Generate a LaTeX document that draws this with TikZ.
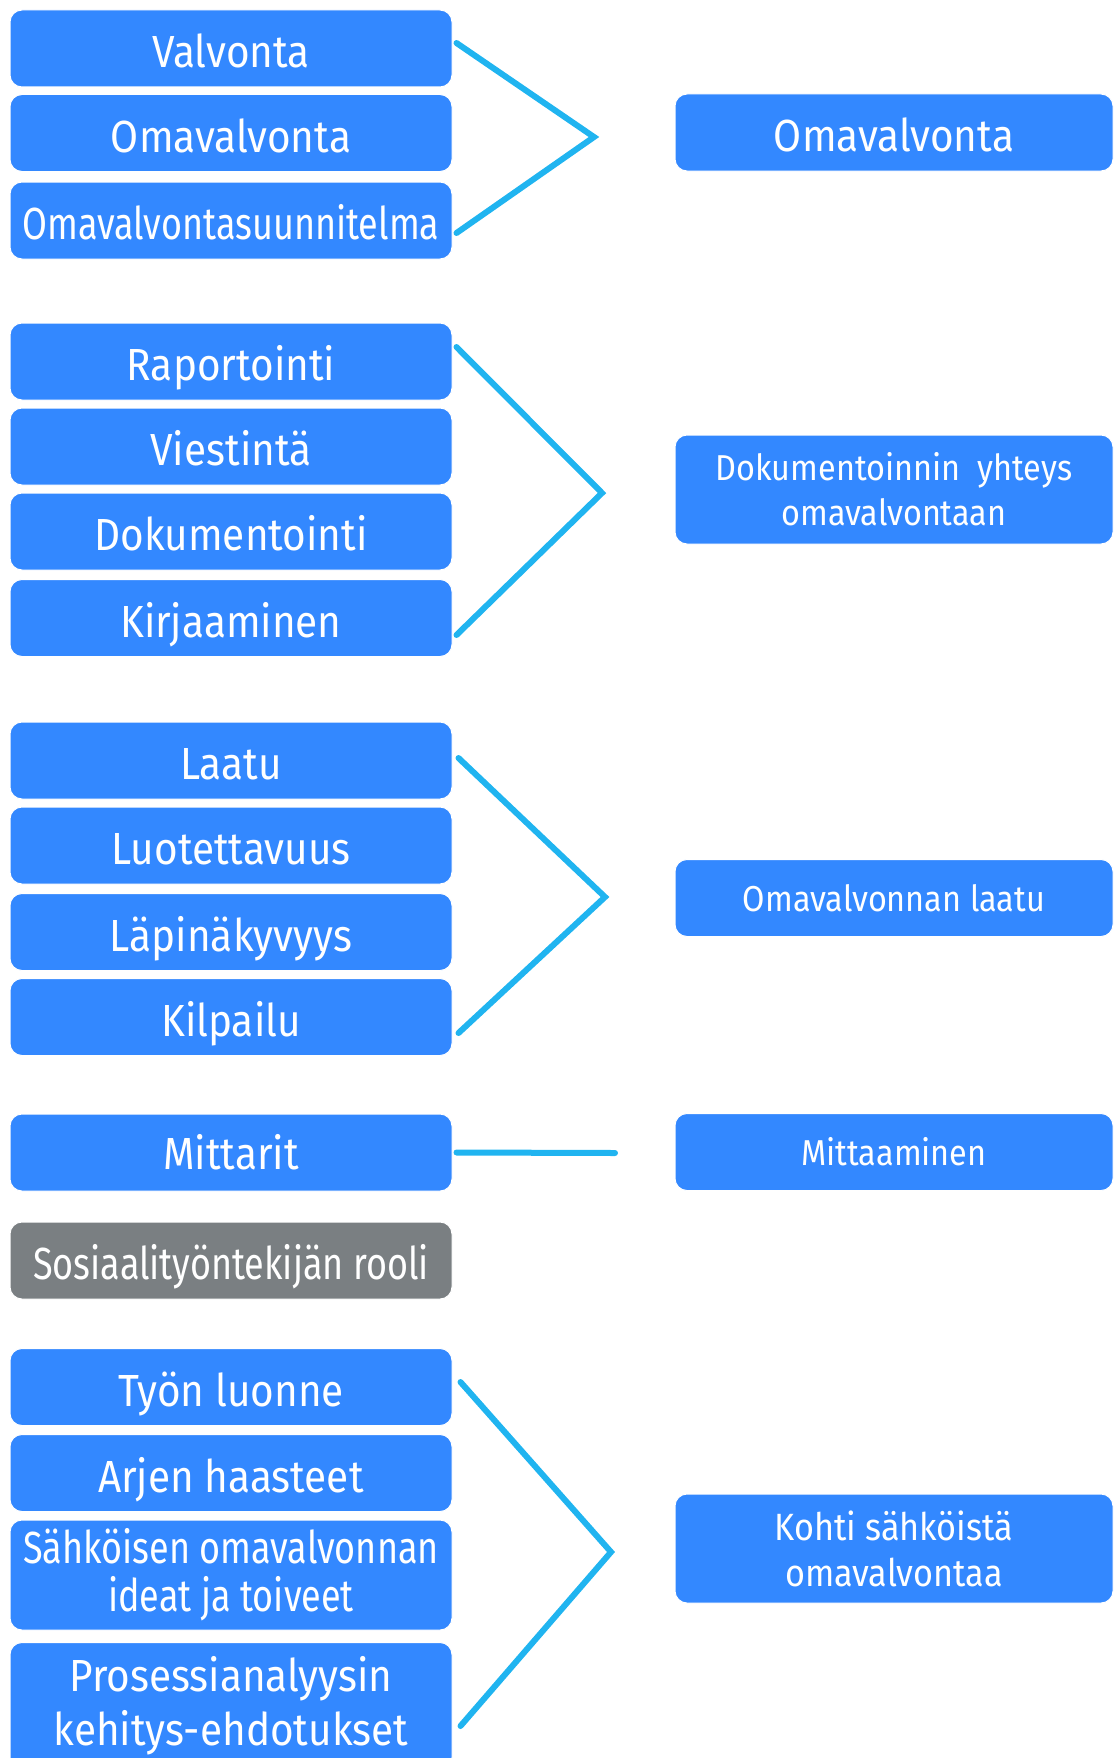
\documentclass[tikz,border=0pt]{standalone}
\usepackage{fontspec}
\setmainfont{Fira Sans}[FakeStretch=0.9]
\newfontfamily\narrowfont{Fira Sans}[FakeStretch=0.8]
\definecolor{boxblue}{RGB}{51,136,255}
\definecolor{boxgray}{RGB}{122,127,130}
\definecolor{linkblue}{RGB}{32,180,240}
\tikzset{
  basebox/.style={rectangle, rounded corners=12pt, fill=boxblue, draw=white, line width=1pt,
    text=white, minimum width=442pt, minimum height=77pt, inner sep=0pt, align=center,
    font=\fontsize{45}{48}\selectfont},
  box/.style={basebox, text height=38pt, text depth=0pt},
  rbox/.style={basebox, minimum width=438pt},
  smalltext/.style={font=\fontsize{36}{45}\selectfont},
  graybox/.style={box, fill=boxgray},
  link/.style={draw=linkblue, line width=6pt, line cap=round, line join=miter}
}
\begin{document}
\begin{tikzpicture}[x=1pt, y=-1pt]
\useasboundingbox (0,0) rectangle (1114,1758);
\clip (0,0) rectangle (1114,1758);

% group 1
\node[box] (valv) at (231,48.5) {Valvonta};
\node[box] (omav) at (231,133) {Omavalvonta};
\node[box] (omsu) at (231,220.5) {\narrowfont Omavalvontasuunnitelma};
\node[rbox, text height=38pt, text depth=0pt] (r1) at (894,132.5) {Omavalvonta};
\coordinate (a1) at (594,137);
\draw[link] ([xshift=4pt,yshift=5.5pt]valv.east) -- (a1) -- ([xshift=4pt,yshift=-12.5pt]omsu.east);

% group 2
\node[box] (rapo) at (231,361.5) {Raportointi};
\node[box] (vies) at (231,446.5) {Viestintä};
\node[box] (doku) at (231,531.5) {Dokumentointi};
\node[box] (kirj) at (231,618) {Kirjaaminen};
\node[rbox, smalltext, minimum height=109pt] (r2) at (894,489.5) {Dokumentoinnin\ \ yhteys\\omavalvontaan};
\coordinate (a2) at (602,493);
\draw[link] ([xshift=4pt,yshift=14.5pt]rapo.east) -- (a2) -- ([xshift=4pt,yshift=-17pt]kirj.east);

% group 3
\node[box] (laat) at (231,760.5) {Laatu};
\node[box] (luot) at (231,845.5) {Luotettavuus};
\node[box] (lapi) at (231,932) {Läpinäkyvyys};
\node[box] (kilp) at (231,1017) {Kilpailu};
\node[rbox, smalltext] (r3) at (894,898) {Omavalvonnan laatu};
\coordinate (a3) at (605,897);
\draw[link] ([xshift=6pt,yshift=2.5pt]laat.east) -- (a3) -- ([xshift=6pt,yshift=-16pt]kilp.east);

% group 4
\node[basebox] (mitt) at (231,1152.5) {Mittarit};
\node[rbox, smalltext] (r4) at (894,1152) {Mittaaminen};
\coordinate (e4) at (615,1153);
\draw[link] ([xshift=4pt]mitt.east) -- (e4);

\node[graybox] (rool) at (231,1260.5) {\narrowfont Sosiaalityöntekijän rooli};

% group 5
\node[box] (tyon) at (231,1387) {Työn luonne};
\node[box] (arje) at (231,1473) {Arjen haasteet};
\node[basebox, minimum height=110pt] (sahk) at (231,1575) {\narrowfont Sähköisen omavalvonnan\\\narrowfont ideat ja toiveet};
\node[basebox, minimum height=127pt, font=\fontsize{45}{54}\selectfont] (pros) at (231,1706) {Prosessianalyysin\\kehitys-ehdotukset};
\node[rbox, font=\fontsize{38}{46}\selectfont, minimum height=109pt] (r5) at (894,1548.5) {Kohti sähköistä\\omavalvontaa};
\coordinate (a5) at (611,1552);
\draw[link] ([xshift=8pt,yshift=5pt]tyon.east) -- (a5) -- ([xshift=8pt,yshift=-20pt]pros.east);
\end{tikzpicture}
\end{document}
